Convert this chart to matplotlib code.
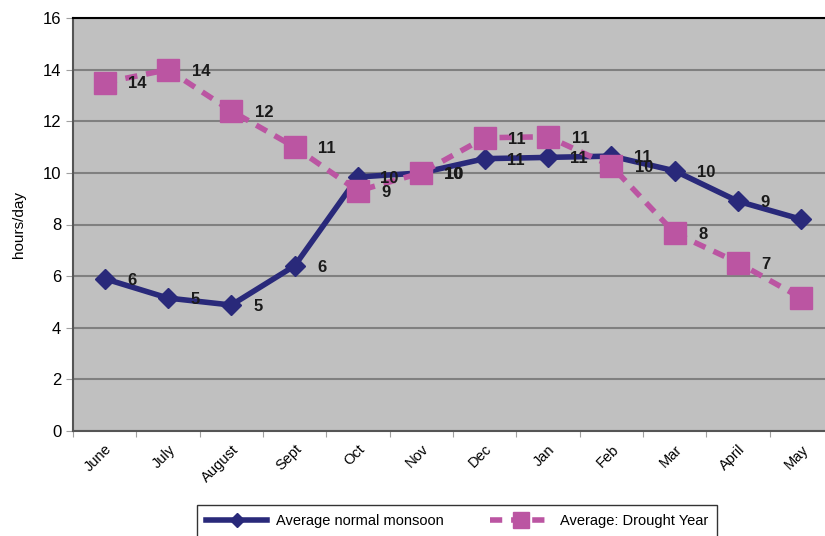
import matplotlib
matplotlib.use("Agg")
import matplotlib.pyplot as plt

plt.rcParams['font.family'] = ['Liberation Sans', 'DejaVu Sans']

# Datos
meses = ['June', 'July', 'August', 'Sept', 'Oct', 'Nov', 'Dec', 'Jan', 'Feb', 'Mar', 'April', 'May']
normal = [5.9, 5.15, 4.88, 6.4, 9.84, 10.0, 10.55, 10.6, 10.65, 10.08, 8.9, 8.2]
sequia = [13.5, 14.0, 12.4, 11.0, 9.3, 10.0, 11.36, 11.4, 10.27, 7.67, 6.52, 5.15]

AZUL = '#29297a'
ROSA = '#bb55a2'

fig = plt.figure(figsize=(8.25, 5.36), dpi=100)
ax = fig.add_axes([73 / 825, 105 / 536, 760 / 825, 413 / 536])
ax.set_facecolor('#c0c0c0')

x = list(range(len(meses)))

# Serie normal
ax.plot(x, normal, color=AZUL, lw=4, marker='D', ms=10, mfc=AZUL, mec=AZUL,
        label='Average normal monsoon', zorder=3)
# Serie sequía
ax.plot(x, sequia, color=ROSA, lw=4, ls=(0, (2.2, 1.6)), marker='s', ms=16,
        mfc=ROSA, mec=ROSA, label='Average: Drought Year', zorder=4)

# Etiquetas de valores (la del último mes queda fuera del área, como en el original)
for xi, v in zip(x[:-1], normal[:-1]):
    ax.annotate(f'{int(v + 0.5)}', (xi, v), xytext=(16, -1), textcoords='offset points',
                ha='left', va='center', fontsize=12, fontweight='bold', color='#1a1a1a', zorder=5)
for xi, v in zip(x[:-1], sequia[:-1]):
    ax.annotate(f'{int(v + 0.5)}', (xi, v), xytext=(17, -1), textcoords='offset points',
                ha='left', va='center', fontsize=12, fontweight='bold', color='#1a1a1a', zorder=5)

ax.set_xlim(-0.5, len(meses) - 0.5)
ax.set_ylim(0, 16)
ax.set_yticks(range(0, 17, 2))
ax.set_xticks([i - 0.5 for i in range(len(meses))], minor=False)
ax.set_xticklabels([])
ax.set_xticks(x, minor=True)
ax.set_xticklabels(meses, minor=True, rotation=45, ha='right', rotation_mode='anchor', fontsize=10.5)
ax.tick_params(axis='x', which='minor', length=0, pad=8)
ax.tick_params(axis='x', which='major', length=4, color='#a0a0a0', direction='out')
ax.tick_params(axis='y', length=5, color='#a0a0a0', labelsize=12)

ax.grid(True, axis='y', color='#808080', lw=1.5)
ax.set_axisbelow(True)
for s in ['left', 'bottom']:
    ax.spines[s].set_color('#555555')
    ax.spines[s].set_linewidth(1.5)
ax.spines['top'].set_color('black')
ax.spines['top'].set_linewidth(1.5)
ax.spines['right'].set_visible(False)

ax.set_ylabel('hours/day', fontsize=11, labelpad=12)

leg = fig.legend(loc='upper left', bbox_to_anchor=(190 / 825, 1 - 498 / 536), ncol=2,
                 frameon=True, fancybox=False, edgecolor='black', fontsize=10.5,
                 handlelength=4.2, handletextpad=0.6, columnspacing=3.2, borderpad=0.6,
                 markerscale=0.75)
leg.get_frame().set_linewidth(1.0)

fig.savefig('out.png', dpi=100)
